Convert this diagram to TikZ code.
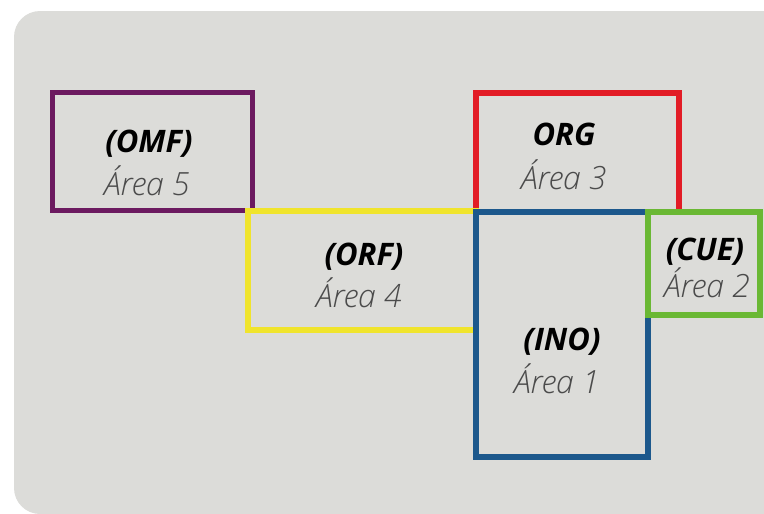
\documentclass[tikz,border=0pt]{standalone}
\usepackage{fontspec}
\setmainfont{Open Sans}
\newfontfamily\arealight{Open Sans Light Italic}
\definecolor{panel}{RGB}{220,220,217}
\definecolor{cpurple}{RGB}{108,26,96}
\definecolor{cred}{RGB}{226,28,38}
\definecolor{cyellow}{RGB}{240,228,44}
\definecolor{cblue}{RGB}{28,88,140}
\definecolor{cgreen}{RGB}{106,184,52}
\definecolor{areagray}{RGB}{75,75,75}
\tikzset{
  zone/.style={draw=#1, line width=5.8pt, rectangle, inner sep=0pt, outer sep=0pt},
  code/.style={anchor=base, font=\fontsize{31}{31}\selectfont\bfseries\itshape, text=black},
  area/.style={anchor=base, font=\fontsize{32}{32}\selectfont\arealight, text=areagray}
}
\begin{document}
\begin{tikzpicture}[x=1pt,y=-1pt]
\useasboundingbox (0,0) rectangle (764,514);
% panel behind the zones
\fill[panel, rounded corners=26pt] (14,11) rectangle (800,514);
% zones, drawn in stacking order
\node[zone=cred, minimum width=203pt, minimum height=119pt] (org) at (577.5,152.5) {};
\node[zone=cpurple, minimum width=200pt, minimum height=118pt] (omf) at (152.5,151.5) {};
\node[zone=cyellow, minimum width=228pt, minimum height=119pt] (orf) at (362,270.5) {};
\node[zone=cblue, minimum width=172pt, minimum height=245pt] (ino) at (562,334.5) {};
\node[zone=cgreen, minimum width=112pt, minimum height=103pt] (cue) at (704,263.5) {};
% labels
\node[code] (omfcode) at (149,152) {(OMF)};
\node[area] (omfarea) at (147,195) {Área 5};
\node[code] (orgcode) at (564,145) {ORG};
\node[area] (orgarea) at (564,189) {Área 3};
\node[code] (orfcode) at (364,265) {(ORF)};
\node[area] (orfarea) at (359,307) {Área 4};
\node[code] (cuecode) at (705,260) {(CUE)};
\node[area] (cuearea) at (707,297) {Área 2};
\node[code] (inocode) at (562,350) {(INO)};
\node[area] (inoarea) at (557,393) {Área 1};
\end{tikzpicture}
\end{document}
